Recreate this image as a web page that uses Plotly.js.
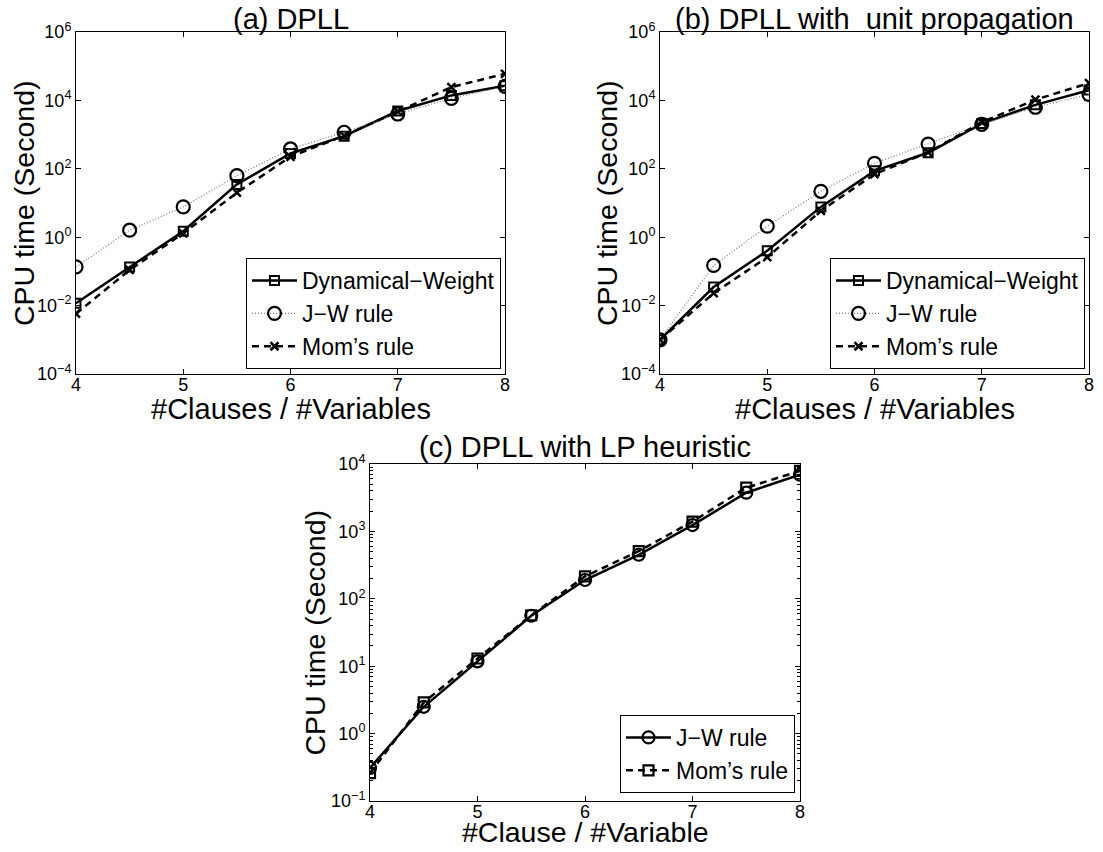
<!DOCTYPE html>
<html>
<head>
<meta charset="utf-8">
<script src="https://cdn.plot.ly/plotly-3.0.1.min.js"></script>
<style>
  html, body { margin: 0; padding: 0; background: #fff; }
  #chart { width: 1103px; height: 852px; }
</style>
</head>
<body>
<div id="chart"></div>
<script>
// Clause/variable ratios shared by all three panels
const ratios = [4, 4.5, 5, 5.5, 6, 6.5, 7, 7.5, 8];

// (a) plain DPLL, CPU seconds
const dpllDynWeight = [0.0118, 0.135, 1.5, 35, 280, 900, 4900, 14000, 27000];
const dpllJW        = [0.135, 1.6, 7.7, 63, 380, 1170, 4000, 11500, 25700];
const dpllMom       = [0.0058, 0.11, 1.3, 20, 225, 930, 4700, 24500, 60000];

// (b) DPLL with unit propagation, CPU seconds
const upDynWeight = [0.001, 0.035, 0.4, 7.7, 87, 295, 2100, 7400, 20000];
const upJW        = [0.001, 0.15, 2.1, 22, 145, 530, 2000, 6300, 15000];
const upMom       = [0.001, 0.023, 0.26, 5.9, 70, 300, 2300, 10500, 32000];

// (c) DPLL with LP heuristic, CPU seconds
const lpJW  = [0.31, 2.5, 11.8, 56, 190, 450, 1240, 3750, 6950];
const lpMom = [0.26, 2.9, 13, 57, 215, 510, 1400, 4450, 7900];

// Tick labels
const xTicks = [4, 5, 6, 7, 8];
const yTicksWide = [1e-4, 1e-2, 1, 1e2, 1e4, 1e6];
const yTextWide = ['10<sup>\u22124</sup>', '10<sup>\u22122</sup>', '10<sup>0</sup>', '10<sup>2</sup>', '10<sup>4</sup>', '10<sup>6</sup>'];
const yTicksLP = [1e-1, 1, 1e1, 1e2, 1e3, 1e4];
const yTextLP = ['10<sup>\u22121</sup>', '10<sup>0</sup>', '10<sup>1</sup>', '10<sup>2</sup>', '10<sup>3</sup>', '10<sup>4</sup>'];

// Series names
const nameDW = 'Dynamical\u2212Weight';
const nameJW = 'J\u2212W rule';
const nameMom = 'Mom\u2019s rule';

const W = 1103, H = 852;
const fx = v => v / W;
const fy = v => 1 - v / H;

const FONT = 'Liberation Sans, Arial, Helvetica, sans-serif';

function dwTrace(y, xa, ya, lg) {
  return { x: ratios, y: y, xaxis: xa, yaxis: ya, legend: lg, name: nameDW, mode: 'lines+markers',
    line: { color: '#000', width: 2.5 },
    marker: { symbol: 'square-open', size: 9, color: '#000', line: { width: 2, color: '#000' } } };
}
function jwDotTrace(y, xa, ya, lg) {
  return { x: ratios, y: y, xaxis: xa, yaxis: ya, legend: lg, name: nameJW, mode: 'lines+markers',
    line: { color: '#777', width: 1.2, dash: '1px,2px' },
    marker: { symbol: 'circle-open', size: 13, color: '#000', line: { width: 2.2, color: '#000' } } };
}
function momXTrace(y, xa, ya, lg) {
  return { x: ratios, y: y, xaxis: xa, yaxis: ya, legend: lg, name: nameMom, mode: 'lines+markers',
    line: { color: '#000', width: 2.5, dash: '7px,5px' },
    marker: { symbol: 'x-thin-open', size: 8, color: '#000', line: { width: 2.5, color: '#000' } } };
}

const data = [
  dwTrace(dpllDynWeight, 'x', 'y', 'legend'),
  jwDotTrace(dpllJW, 'x', 'y', 'legend'),
  momXTrace(dpllMom, 'x', 'y', 'legend'),
  dwTrace(upDynWeight, 'x2', 'y2', 'legend2'),
  jwDotTrace(upJW, 'x2', 'y2', 'legend2'),
  momXTrace(upMom, 'x2', 'y2', 'legend2'),
  { x: ratios, y: lpJW, xaxis: 'x3', yaxis: 'y3', legend: 'legend3', name: nameJW, mode: 'lines+markers',
    line: { color: '#000', width: 2.5 },
    marker: { symbol: 'circle-open', size: 12, color: '#000', line: { width: 2.2, color: '#000' } } },
  { x: ratios, y: lpMom, xaxis: 'x3', yaxis: 'y3', legend: 'legend3', name: nameMom, mode: 'lines+markers',
    line: { color: '#000', width: 2.5, dash: '7px,5px' },
    marker: { symbol: 'square-open', size: 10, color: '#000', line: { width: 2.2, color: '#000' } } }
];

function xAxis(dom, anchor) {
  return { domain: dom, anchor: anchor, range: [4, 8], tickvals: xTicks, ticks: 'inside', ticklen: 5,
    tickcolor: '#000', showline: true, linecolor: '#000', linewidth: 1, mirror: 'ticks',
    ticklabelstandoff: -6,
    showgrid: false, zeroline: false, tickfont: { size: 18, family: FONT, color: '#000' } };
}
function yAxis(dom, anchor, rng, vals, text, minor) {
  const a = { domain: dom, anchor: anchor, type: 'log', range: rng, tickvals: vals, ticktext: text,
    ticks: 'inside', ticklen: 5, tickcolor: '#000', showline: true, linecolor: '#000', linewidth: 1,
    mirror: 'ticks', showgrid: false, zeroline: false, tickfont: { size: 18, family: FONT, color: '#000' } };
  if (minor) a.minor = { ticks: 'inside', ticklen: 3, tickcolor: '#000', dtick: 'D1', showgrid: false };
  return a;
}

// panel frames in pixels: [left, right, top, bottom]
const A = [76, 505, 32, 374];
const B = [660, 1089, 32, 374];
const C = [370, 800, 464, 801];

function legendAt(right, bottom) {
  return { x: fx(right), y: fy(bottom), xanchor: 'right', yanchor: 'bottom', bgcolor: '#fff',
    bordercolor: '#000', borderwidth: 1, font: { size: 23, family: FONT, color: '#000' },
    tracegroupgap: 0, itemwidth: 45 };
}

function ann(text, x, y, size, xanchor, yanchor, angle) {
  return { text: text, x: fx(x), y: fy(y), xref: 'paper', yref: 'paper', showarrow: false,
    xanchor: xanchor, yanchor: yanchor, textangle: angle || 0,
    font: { size: size, family: FONT, color: '#000' } };
}

const layout = {
  width: W, height: H,
  margin: { l: 0, r: 0, t: 0, b: 0 },
  paper_bgcolor: '#fff', plot_bgcolor: '#fff',
  font: { family: FONT, color: '#000' },
  showlegend: true,
  xaxis: xAxis([fx(A[0]), fx(A[1])], 'y'),
  yaxis: yAxis([fy(A[3]), fy(A[2])], 'x', [-4, 6], yTicksWide, yTextWide, false),
  xaxis2: xAxis([fx(B[0]), fx(B[1])], 'y2'),
  yaxis2: yAxis([fy(B[3]), fy(B[2])], 'x2', [-4, 6], yTicksWide, yTextWide, false),
  xaxis3: xAxis([fx(C[0]), fx(C[1])], 'y3'),
  yaxis3: yAxis([fy(C[3]), fy(C[2])], 'x3', [-1, 4], yTicksLP, yTextLP, true),
  legend: legendAt(501, 369),
  legend2: legendAt(1085, 369),
  legend3: legendAt(795, 793),
  annotations: [
    ann('(a) DPLL', (A[0] + A[1]) / 2, A[2] + 5, 29, 'center', 'bottom'),
    ann('(b) DPLL with \u00a0unit propagation', (B[0] + B[1]) / 2, B[2] + 5, 29, 'center', 'bottom'),
    ann('(c) DPLL with LP heuristic', (C[0] + C[1]) / 2, C[2] + 1, 29, 'center', 'bottom'),
    ann('#Clauses / #Variables', (A[0] + A[1]) / 2, 391, 29, 'center', 'top'),
    ann('#Clauses / #Variables', (B[0] + B[1]) / 2, 391, 29, 'center', 'top'),
    ann('#Clause / #Variable', (C[0] + C[1]) / 2, 814, 28.5, 'center', 'top'),
    ann('CPU time (Second)', 24, (A[2] + A[3]) / 2, 28.5, 'center', 'middle', -90),
    ann('CPU time (Second)', 607, (B[2] + B[3]) / 2, 28.5, 'center', 'middle', -90),
    ann('CPU time (Second)', 314, (C[2] + C[3]) / 2, 28.5, 'center', 'middle', -90)
  ]
};

Plotly.newPlot('chart', data, layout, { staticPlot: true, displayModeBar: false });
</script>
</body>
</html>
